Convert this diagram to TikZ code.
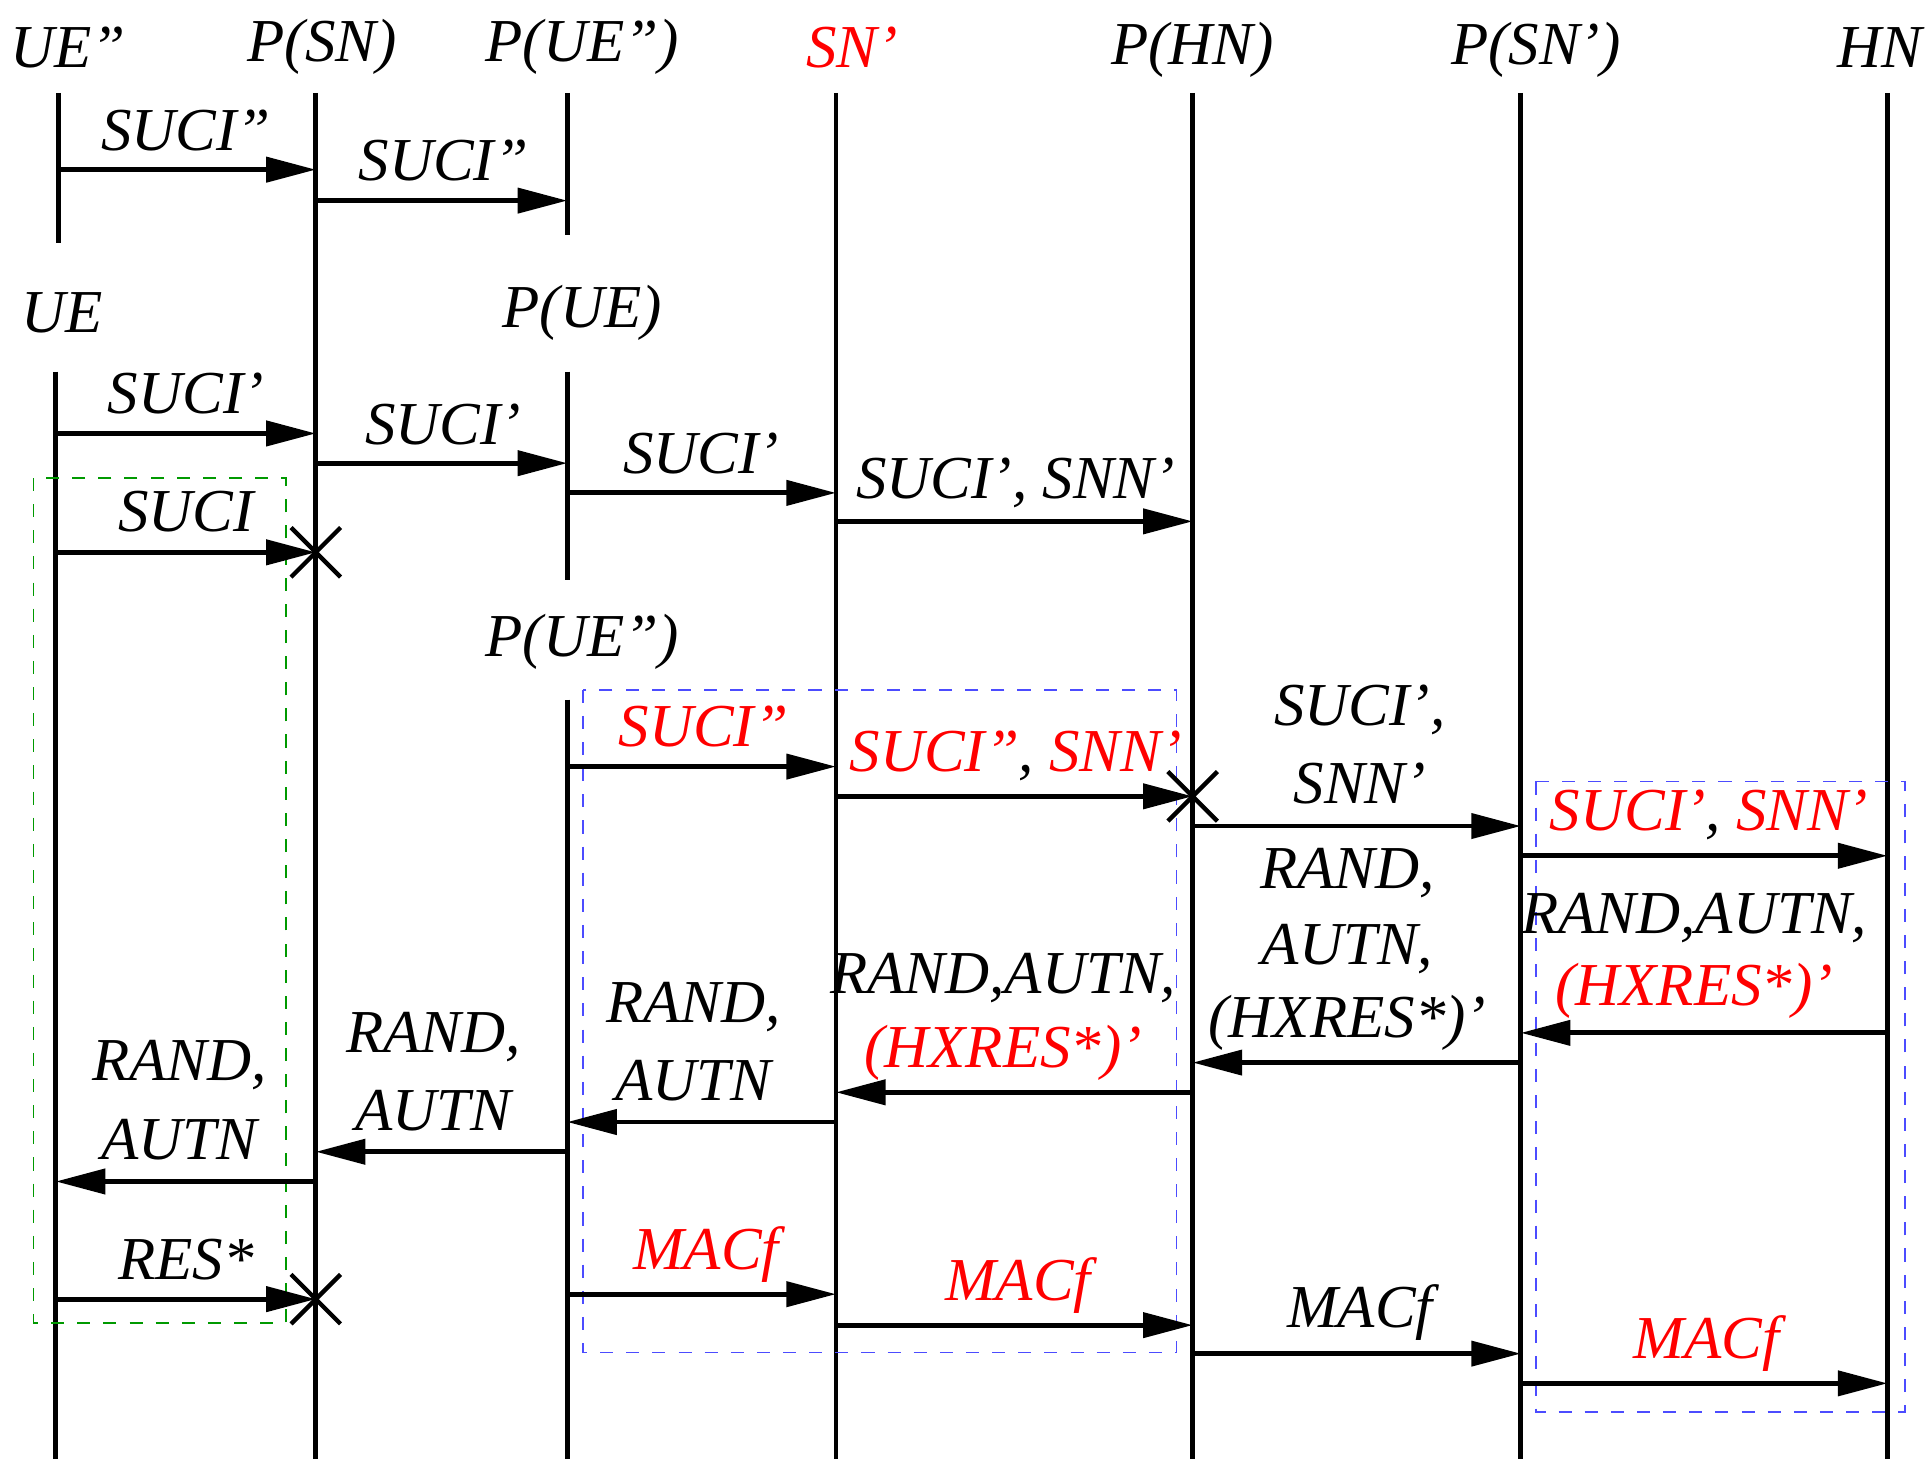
\documentclass[tikz,border=0pt]{standalone}
\usepackage{fontspec}
\setmainfont{Liberation Serif}
\usetikzlibrary{arrows.meta}
\begin{document}
\begin{tikzpicture}[x=0.01cm,y=-0.01cm,
  life/.style={line width=1.1pt},
  msg/.style={line width=1.1pt,-{Triangle[length=0.4cm,width=0.2cm]}},
  lab/.style={font=\fontsize{14}{16}\selectfont\itshape,inner sep=0pt},
  box/.style={dashed,line width=0.4pt},
  red/.style={text=red}]
\useasboundingbox (0,0) rectangle (1560,1186);
% lifeline heads
\node[lab] (hUEpp) at (55,38) {UE''};
\node[lab] (hPSN) at (260,38) {P(SN)};
\node[lab] (hPUEpp) at (470,38) {P(UE'')};
\node[lab,red] (hSNp) at (688,38) {SN'};
\node[lab] (hPHN) at (963,40) {P(HN)};
\node[lab] (hPSNp) at (1240,40) {P(SN')};
\node[lab] (hHN) at (1518,38) {HN};
\node[lab] (hUE) at (50,253) {UE};
\node[lab] (hPUE) at (470,253) {P(UE)};
\node[lab] (hPUEpp2) at (470,518) {P(UE'')};
% lifelines
\draw[life] (47,75) -- (47,196);
\draw[life] (255,75) -- (255,1178);
\draw[life] (458,75) -- (458,190);
\draw[life] (675,75) -- (675,1178);
\draw[life] (963,75) -- (963,1178);
\draw[life] (1228,75) -- (1228,1178);
\draw[life] (1524,75) -- (1524,1178);
\draw[life] (45,300) -- (45,1178);
\draw[life] (458,300) -- (458,468);
\draw[life] (458,565) -- (458,1178);
% boxes
\draw[box,green!60!black] (27,386) rectangle (231,1068);
\draw[box,blue!70] (471,557) rectangle (950,1092);
\draw[box,blue!70] (1240,631) rectangle (1538,1140);
% messages
\draw[msg] (47,137) -- (255,137); \node[lab] at (150,105) {SUCI''};
\draw[msg] (255,162) -- (458,162); \node[lab] at (358,130) {SUCI''};
\draw[msg] (45,350) -- (255,350); \node[lab] at (150,318) {SUCI'};
\draw[msg] (255,374) -- (458,374); \node[lab] at (358,343) {SUCI'};
\draw[msg] (458,398) -- (675,398); \node[lab] at (566,366) {SUCI'};
\draw[msg] (675,421) -- (963,421); \node[lab] at (820,390) {SUCI', SNN'};
\draw[msg] (45,446) -- (255,446); \node[lab] at (150,413) {SUCI};
\draw[line width=1pt] (235,426) -- (275,466) (235,466) -- (275,426);
\draw[msg] (458,619) -- (675,619); \node[lab,red] at (568,587) {SUCI''};
\draw[msg] (675,643) -- (963,643); \node[lab] at (820,610) {\textcolor{red}{SUCI''}, \textcolor{red}{SNN'}};
\draw[line width=1pt] (943,623) -- (983,663) (943,663) -- (983,623);
\draw[msg] (963,667) -- (1228,667); \node[lab] at (1098,573) {SUCI',}; \node[lab] at (1098,633) {SNN'};
\draw[msg] (1228,691) -- (1524,691); \node[lab] at (1380,658) {\textcolor{red}{SUCI'}, \textcolor{red}{SNN'}};
\draw[msg] (1524,834) -- (1228,834); \node[lab] at (1368,741) {RAND,AUTN,}; \node[lab,red] at (1368,800) {(HXRES*)'};
\draw[msg] (1228,858) -- (963,858); \node[lab] at (1088,705) {RAND,}; \node[lab] at (1088,766) {AUTN,}; \node[lab] at (1088,826) {(HXRES*)'};
\draw[msg] (963,882) -- (675,882); \node[lab] at (810,790) {RAND,AUTN,}; \node[lab,red] at (810,850) {(HXRES*)'};
\draw[msg] (675,906) -- (458,906); \node[lab] at (560,813) {RAND,}; \node[lab] at (560,873) {AUTN};
\draw[msg] (458,930) -- (255,930); \node[lab] at (350,837) {RAND,}; \node[lab] at (350,897) {AUTN};
\draw[msg] (255,954) -- (45,954); \node[lab] at (145,860) {RAND,}; \node[lab] at (145,920) {AUTN};
\draw[msg] (45,1049) -- (255,1049); \node[lab] at (150,1017) {RES*};
\draw[line width=1pt] (235,1029) -- (275,1069) (235,1069) -- (275,1029);
\draw[msg] (458,1045) -- (675,1045); \node[lab,red] at (570,1013) {MACf};
\draw[msg] (675,1070) -- (963,1070); \node[lab,red] at (822,1038) {MACf};
\draw[msg] (963,1093) -- (1228,1093); \node[lab] at (1098,1060) {MACf};
\draw[msg] (1228,1117) -- (1524,1117); \node[lab,red] at (1378,1085) {MACf};
\end{tikzpicture}
\end{document}
